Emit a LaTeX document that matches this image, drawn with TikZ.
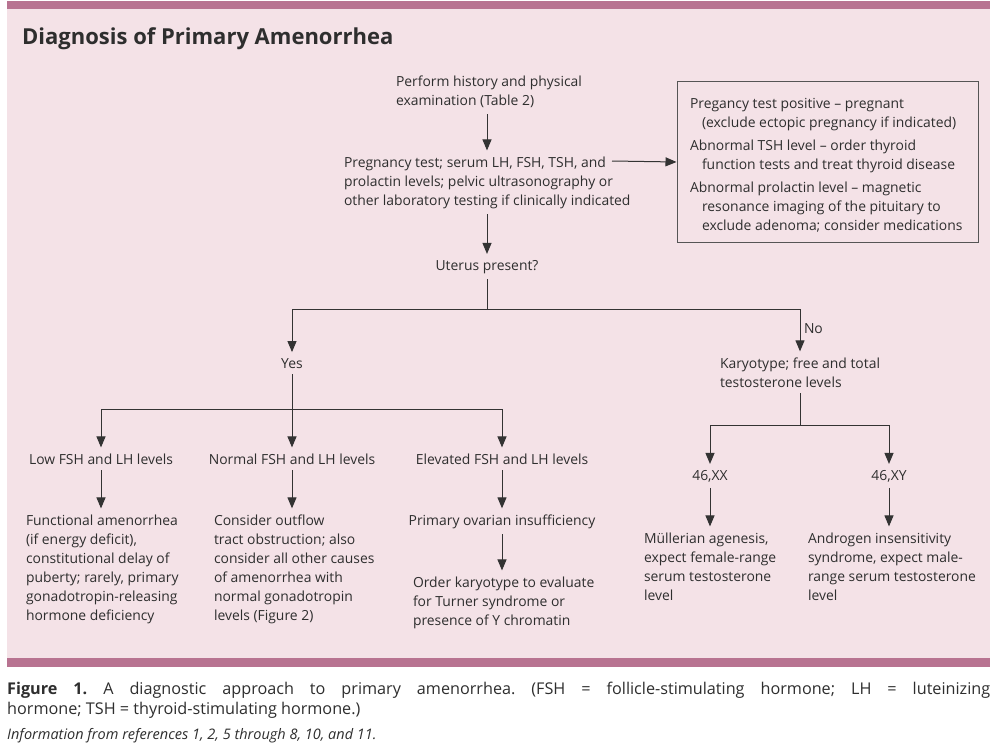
\documentclass[tikz,border=0pt]{standalone}
\usepackage{fontspec}
\setmainfont{Open Sans}
\usetikzlibrary{arrows.meta}
\definecolor{bgpink}{HTML}{F4E2E7}
\definecolor{barpink}{HTML}{B87391}
\definecolor{txtc}{HTML}{2E2E2E}
\definecolor{linec}{HTML}{333333}
\definecolor{boxc}{HTML}{555555}
\tikzset{
  txt/.style={font=\fontsize{13.9}{19}\selectfont, text=txtc, inner sep=0pt, outer sep=6pt, align=left},
  ctxt/.style={txt, align=center},
  arr/.style={-{Triangle[length=11pt,width=9pt]}, line width=1pt, draw=linec},
  ln/.style={line width=1pt, draw=linec},
}
\begin{document}
\begin{tikzpicture}[x=1pt,y=-1pt]
\useasboundingbox (0,0) rectangle (997,752);
\fill[white] (0,0) rectangle (997,752);
\fill[bgpink] (7,9) rectangle (990,658);
\fill[barpink] (7,1) rectangle (990,9);
\fill[barpink] (7,658) rectangle (990,667);

\node[anchor=base west, inner sep=0pt, text=txtc, font=\fontsize{22}{26}\selectfont\bfseries] (title) at (22,45) {Diagnosis of Primary Amenorrhea};

\node[txt, anchor=base west] (perform) at (390,106) {Perform history and physical\\examination (Table 2)};
\node[txt, anchor=base west] (preg) at (338,205) {Pregnancy test; serum LH, FSH, TSH, and\\prolactin levels; pelvic ultrasonography or\\other laboratory testing if clinically indicated};
\node[draw=boxc, line width=1pt, minimum width=301pt, minimum height=160pt, inner sep=0pt] (box) at (827.5,162) {};
\node[txt, anchor=base west, outer sep=0pt] (boxtext) at (690,230) {Pregancy test positive -- pregnant\\\hspace*{12pt}(exclude ectopic pregnancy if indicated)\\[4pt]Abnormal TSH level -- order thyroid\\\hspace*{12pt}function tests and treat thyroid disease\\[4pt]Abnormal prolactin level -- magnetic\\\hspace*{12pt}resonance imaging of the pituitary to\\\hspace*{12pt}exclude adenoma; consider medications};
\coordinate (pregout) at (612,161);

\node[ctxt, anchor=base] (uterus) at (487,270) {Uterus present?};
\coordinate (split1) at (487,309);
\node[ctxt, anchor=base] (yes) at (292,368) {Yes};
\node[txt, anchor=base west] (kary) at (714,387) {Karyotype; free and total\\testosterone levels};
\node[txt, anchor=west, outer sep=0pt] (no) at (804,329) {No};
\coordinate (karyc) at (800,368);

\coordinate (split2) at (292,409);
\node[ctxt, anchor=base] (low) at (101,464) {Low FSH and LH levels};
\node[ctxt, anchor=base] (normal) at (292,464) {Normal FSH and LH levels};
\node[ctxt, anchor=base] (elev) at (502,464) {Elevated FSH and LH levels};

\node[txt, anchor=base west] (func) at (20,620) {Functional amenorrhea\\(if energy deficit),\\constitutional delay of\\puberty; rarely, primary\\gonadotropin-releasing\\hormone deficiency};
\node[txt, anchor=base west] (consider) at (208,620) {Consider outflow\\tract obstruction; also\\consider all other causes\\of amenorrhea with\\normal gonadotropin\\levels (Figure 2)};
\node[ctxt, anchor=base] (poi) at (502,525) {Primary ovarian insufficiency};
\node[txt, anchor=base west] (order) at (407,625) {Order karyotype to evaluate\\for Turner syndrome or\\presence of Y chromatin};

\coordinate (split3) at (800,425);
\node[ctxt, anchor=base] (xx) at (710,480) {46,XX};
\node[ctxt, anchor=base] (xy) at (889,480) {46,XY};
\node[txt, anchor=base west] (mull) at (638,600) {Müllerian agenesis,\\expect female-range\\serum testosterone\\level};
\node[txt, anchor=base west] (andro) at (802,600) {Androgen insensitivity\\syndrome, expect male-\\range serum testosterone\\level};

% connectors
\draw[arr] (perform.south -| split1) -- (preg.north -| split1);
\draw[arr] (pregout) -- (box.west);
\draw[arr] (preg.south -| split1) -- (uterus.north);
\draw[ln] (uterus.south) -- (split1);
\draw[arr] (split1) -| (yes.north);
\draw[arr] (split1) -| (karyc |- kary.north);
\draw[ln] (yes.south) -- (split2);
\draw[arr] (split2) -- (normal.north);
\draw[arr] (split2) -| (low.north);
\draw[arr] (split2) -| (elev.north);
\draw[arr] (low.south) -- (low.south |- func.north);
\draw[arr] (normal.south) -- (normal.south |- consider.north);
\draw[arr] (elev.south) -- (poi.north);
\draw[arr] (poi.south) -- (poi.south |- order.north);
\draw[ln] (karyc |- kary.south) -- (split3);
\draw[arr] (split3) -| (xx.north);
\draw[arr] (split3) -| (xy.north);
\draw[arr] (xx.south) -- (xx.south |- mull.north);
\draw[arr] (xy.south) -- (xy.south |- andro.north);

% caption
\node[anchor=base west, inner sep=0pt, text=txtc, text width=983pt, align=justify, font=\fontsize{16.2}{20}\selectfont] (caption) at (7,694) {\frenchspacing\textbf{Figure 1.} A diagnostic approach to primary amenorrhea. (FSH = follicle-stimulating hormone; LH = luteinizing\linebreak hormone; TSH = thyroid-stimulating hormone.)};
\node[anchor=base west, inner sep=0pt, text=txtc, font=\fontsize{14.5}{16}\selectfont\itshape] (info) at (7,739) {Information from references 1, 2, 5 through 8, 10, and 11.};
\end{tikzpicture}
\end{document}
